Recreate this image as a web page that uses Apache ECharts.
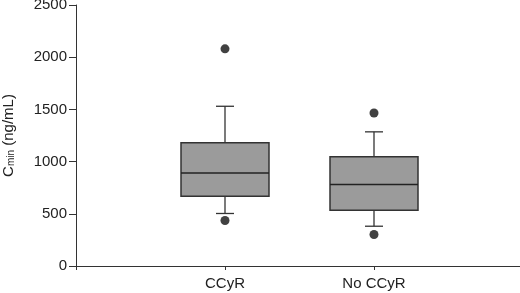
<!DOCTYPE html>
<html>
<head>
<meta charset="utf-8">
<script src="https://cdn.jsdelivr.net/npm/echarts@6/dist/echarts.min.js"></script>
<style>
html, body { margin: 0; padding: 0; background: #fff; }
#main { width: 520px; height: 293px; }
</style>
</head>
<body>
<div id="main"></div>
<script>
// blank categories at both ends so the two boxes sit where the original puts them
var categories = ['', 'CCyR', 'No CCyR', ''];
// [lower whisker, Q1, median, Q3, upper whisker]
var boxCCyR = [503, 669, 890, 1180, 1530];
var boxNoCCyR = [381, 535, 780, 1046, 1285];
var outliersCCyR = [2080, 436];
var outliersNoCCyR = [1465, 302];
var yMax = 2500;
var yStep = 500;

var boxData = [
    ['CCyR'].concat(boxCCyR),
    ['No CCyR'].concat(boxNoCCyR)
];
var dotData = [];
outliersCCyR.forEach(function (v) { dotData.push(['CCyR', v]); });
outliersNoCCyR.forEach(function (v) { dotData.push(['No CCyR', v]); });

var lineColor = '#333';
var font = 'Liberation Sans, Arial, sans-serif';

function renderBox(params, api) {
    var x = api.value(0);
    var pMin = api.coord([x, api.value(1)]);
    var pQ1 = api.coord([x, api.value(2)]);
    var pMed = api.coord([x, api.value(3)]);
    var pQ3 = api.coord([x, api.value(4)]);
    var pMax = api.coord([x, api.value(5)]);
    var cx = pMed[0];
    var half = 44;   // half box width, px
    var cap = 9;     // half whisker cap width, px
    var ln = { stroke: lineColor, lineWidth: 1.3 };
    return {
        type: 'group',
        children: [
            { type: 'line', shape: { x1: cx, y1: pQ3[1], x2: cx, y2: pMax[1] }, style: ln },
            { type: 'line', shape: { x1: cx, y1: pQ1[1], x2: cx, y2: pMin[1] }, style: ln },
            { type: 'line', shape: { x1: cx - cap, y1: pMax[1], x2: cx + cap, y2: pMax[1] }, style: ln },
            { type: 'line', shape: { x1: cx - cap, y1: pMin[1], x2: cx + cap, y2: pMin[1] }, style: ln },
            {
                type: 'rect',
                shape: { x: cx - half, y: pQ3[1], width: half * 2, height: pQ1[1] - pQ3[1] },
                style: { fill: '#9b9b9b', stroke: lineColor, lineWidth: 1.5 }
            },
            { type: 'line', shape: { x1: cx - half, y1: pMed[1], x2: cx + half, y2: pMed[1] }, style: { stroke: '#222', lineWidth: 1.5 } }
        ]
    };
}

var myChart = echarts.init(document.getElementById('main'));
var option = {
    animation: false,
    backgroundColor: '#fff',
    textStyle: { fontFamily: font },
    // right edge pushed just past the canvas so the end tick is not drawn
    grid: { left: 76, right: -3, top: 5, bottom: 27, outerBoundsMode: 'none' },
    xAxis: {
        type: 'category',
        data: categories,
        boundaryGap: false,
        axisLine: { lineStyle: { color: lineColor, width: 1 } },
        axisTick: { length: 4, lineStyle: { color: lineColor } },
        axisLabel: { color: '#222', fontSize: 15, margin: 10 }
    },
    yAxis: {
        type: 'value',
        min: 0,
        max: yMax,
        interval: yStep,
        name: '{a|C}{b|min}{a| (ng/mL)}',
        nameLocation: 'middle',
        nameGap: 60,
        nameRotate: 90,
        nameTextStyle: {
            rich: {
                a: { fontSize: 15, color: '#222', fontFamily: font },
                b: { fontSize: 10, color: '#222', verticalAlign: 'bottom', fontFamily: font }
            }
        },
        axisLine: { show: true, lineStyle: { color: lineColor, width: 1 } },
        axisTick: { show: true, length: 7, lineStyle: { color: lineColor } },
        axisLabel: {
            color: '#222',
            fontSize: 15,
            margin: 9,
            formatter: function (v) { return String(v); }
        },
        splitLine: { show: false }
    },
    series: [
        {
            type: 'custom',
            renderItem: renderBox,
            encode: { x: 0, y: [1, 2, 3, 4, 5] },
            data: boxData,
            z: 2
        },
        {
            type: 'scatter',
            data: dotData,
            symbol: 'circle',
            symbolSize: 9,
            itemStyle: { color: '#111' },
            z: 3
        }
    ]
};
myChart.setOption(option);
</script>
</body>
</html>
